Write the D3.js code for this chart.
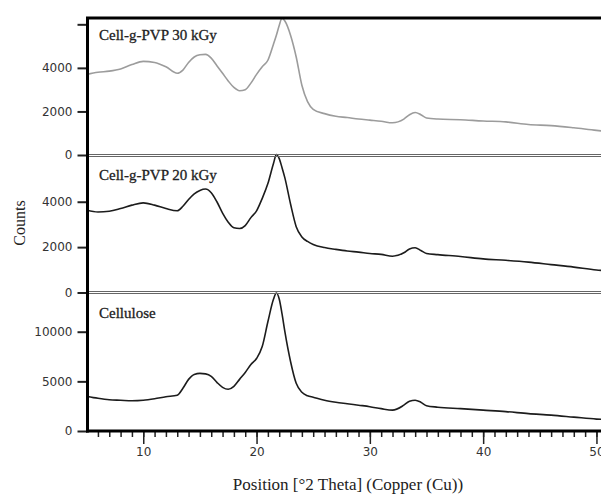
<!DOCTYPE html>
<html>
<head>
<meta charset="utf-8">
<script src="https://cdn.jsdelivr.net/npm/d3@7"></script>
<style>
  body { margin: 0; background: #fff; }
  svg { display: block; }
</style>
</head>
<body>
<svg id="chart" width="601" height="495"></svg>
<script>
// 2 theta positions shared by the three scans
var theta = [5, 6, 7, 8, 9, 10, 11, 12, 13, 13.5, 14, 14.5, 15, 15.5, 16, 16.5, 17, 17.5, 18, 18.5,
  19, 19.5, 20, 20.5, 21, 21.5, 21.75, 22, 22.25, 22.5, 23, 23.5, 24, 24.5, 25, 26, 27, 28, 29, 30,
  31, 32, 33, 33.5, 34, 34.5, 35, 36, 38, 40, 42, 44, 46, 48, 50, 51];

var pvp30 = [3700, 3800, 3850, 3950, 4150, 4300, 4250, 4050, 3750, 3900, 4250, 4500, 4600, 4620, 4450, 4100, 3750, 3400, 3100, 2950,
  3000, 3300, 3700, 4050, 4350, 5100, 5500, 5950, 6280, 6150, 5500, 4500, 3200, 2450, 2100, 1900, 1780, 1720, 1650, 1600,
  1550, 1480, 1650, 1850, 1950, 1850, 1700, 1650, 1620, 1560, 1520, 1400, 1350, 1250, 1130, 1080];

var pvp20 = [3630, 3550, 3580, 3700, 3850, 3950, 3850, 3700, 3600, 3800, 4100, 4350, 4500, 4560, 4400, 4000, 3500, 3100, 2850, 2820,
  2950, 3300, 3600, 4150, 4800, 5700, 6080, 5900, 5500, 5050, 3900, 2900, 2450, 2250, 2120, 1980, 1900, 1830, 1780, 1720,
  1680, 1600, 1750, 1920, 1970, 1850, 1720, 1670, 1590, 1480, 1420, 1340, 1230, 1120, 990, 960];

var cellulose = [3500, 3300, 3150, 3100, 3050, 3100, 3250, 3450, 3600, 4300, 5200, 5700, 5800, 5750, 5500, 4900, 4400, 4200, 4500, 5200,
  5900, 6700, 7300, 8500, 11000, 13300, 13900, 13300, 11800, 10000, 7000, 4800, 3900, 3550, 3400, 3100, 2900, 2750, 2600, 2450,
  2250, 2100, 2600, 3000, 3100, 2900, 2550, 2400, 2250, 2100, 1950, 1750, 1600, 1400, 1200, 1150];

var panelNames = ["Cell-g-PVP 30 kGy", "Cell-g-PVP 20 kGy", "Cellulose"];
var panelSeries = [pvp30, pvp20, cellulose];
var panelMax = [6290, 6060, 13950];
var panelTicks = [[0, 2000, 4000, 6000], [0, 2000, 4000], [0, 5000, 10000]];
var panelColors = ["#9c9c9c", "#1c1c1c", "#1c1c1c"];
var xMajor = [10, 20, 30, 40, 50];

var svg = d3.select("#chart");
var plotLeft = 87.5, plotRight = 608, plotTop = 18, plotBottom = 431;
var bands = [[18, 155], [155, 292.5], [292.5, 431]];

var x = d3.scaleLinear().domain([5, 51]).range([86.6, 86.6 + 46 * 11.33]);

svg.append("defs").append("clipPath").attr("id", "plotclip")
  .append("rect").attr("x", plotLeft).attr("y", plotTop - 2)
  .attr("width", plotRight - plotLeft).attr("height", plotBottom - plotTop + 2);

panelSeries.forEach(function(vals, i) {
  var y = d3.scaleLinear().domain([0, panelMax[i]]).range([bands[i][1], bands[i][0]]);

  // y axis
  var ax = svg.append("g")
    .attr("transform", "translate(" + plotLeft + ",0)")
    .call(d3.axisLeft(y).tickValues(panelTicks[i]).tickSize(10).tickPadding(5)
      .tickFormat(function(d) { return d == 6000 ? "" : d; }));
  ax.select(".domain").remove();
  ax.selectAll("line").attr("stroke", "#222").attr("stroke-width", 2);
  ax.selectAll("text").attr("fill", "#333")
    .style("font-family", "DejaVu Sans").style("font-size", "12px");

  var line = d3.line()
    .x(function(d, k) { return x(theta[k]); })
    .y(function(d) { return y(d); })
    .curve(d3.curveMonotoneX);

  svg.append("path")
    .datum(vals)
    .attr("clip-path", "url(#plotclip)")
    .attr("d", line)
    .attr("fill", "none")
    .attr("stroke", panelColors[i])
    .attr("stroke-width", 1.6)
    .attr("stroke-linejoin", "round");

  svg.append("text")
    .attr("x", 99)
    .attr("y", bands[i][0] + (i == 0 ? 22 : 25))
    .style("font-family", "Liberation Serif")
    .style("font-size", "15px")
    .attr("fill", "#222")
    .attr("stroke", "#222").attr("stroke-width", 0.3)
    .text(panelNames[i]);
});

// separators between panels (thin double rule)
[[154.5, 156.5], [291.5, 293.5]].forEach(function(pair) {
  pair.forEach(function(yy) {
    svg.append("line").attr("x1", plotLeft).attr("x2", plotRight).attr("y1", yy).attr("y2", yy)
      .attr("stroke", "#666").attr("stroke-width", 1);
  });
});

// x axis: minor then major ticks
var minor = svg.append("g").attr("transform", "translate(0," + plotBottom + ")")
  .call(d3.axisBottom(x).tickValues(d3.range(6, 51)).tickSize(6).tickFormat(""));
minor.select(".domain").remove();
minor.selectAll("line").attr("stroke", "#222").attr("stroke-width", 1.5);

var major = svg.append("g").attr("transform", "translate(0," + plotBottom + ")")
  .call(d3.axisBottom(x).tickValues(xMajor).tickSize(13).tickPadding(3));
major.select(".domain").remove();
major.selectAll("line").attr("stroke", "#222").attr("stroke-width", 1.5);
major.selectAll("text").attr("fill", "#333")
  .style("font-family", "DejaVu Sans").style("font-size", "12px");

// frame
svg.append("line").attr("x1", plotLeft - 1.5).attr("x2", plotRight).attr("y1", plotTop).attr("y2", plotTop)
  .attr("stroke", "#000").attr("stroke-width", 3);
svg.append("line").attr("x1", plotLeft - 1.5).attr("x2", plotRight).attr("y1", plotBottom).attr("y2", plotBottom)
  .attr("stroke", "#000").attr("stroke-width", 3);
svg.append("line").attr("x1", plotLeft).attr("x2", plotLeft).attr("y1", plotTop).attr("y2", plotBottom + 1.5)
  .attr("stroke", "#000").attr("stroke-width", 3);

// axis titles
svg.append("text")
  .attr("x", 348).attr("y", 490)
  .attr("text-anchor", "middle")
  .style("font-family", "Liberation Serif").style("font-size", "17px")
  .attr("fill", "#222")
  .text("Position [°2 Theta] (Copper (Cu))");

svg.append("text")
  .attr("transform", "translate(25,223)rotate(-90)")
  .attr("text-anchor", "middle")
  .style("font-family", "Liberation Serif").style("font-size", "16px")
  .attr("fill", "#222")
  .text("Counts");
</script>
</body>
</html>
